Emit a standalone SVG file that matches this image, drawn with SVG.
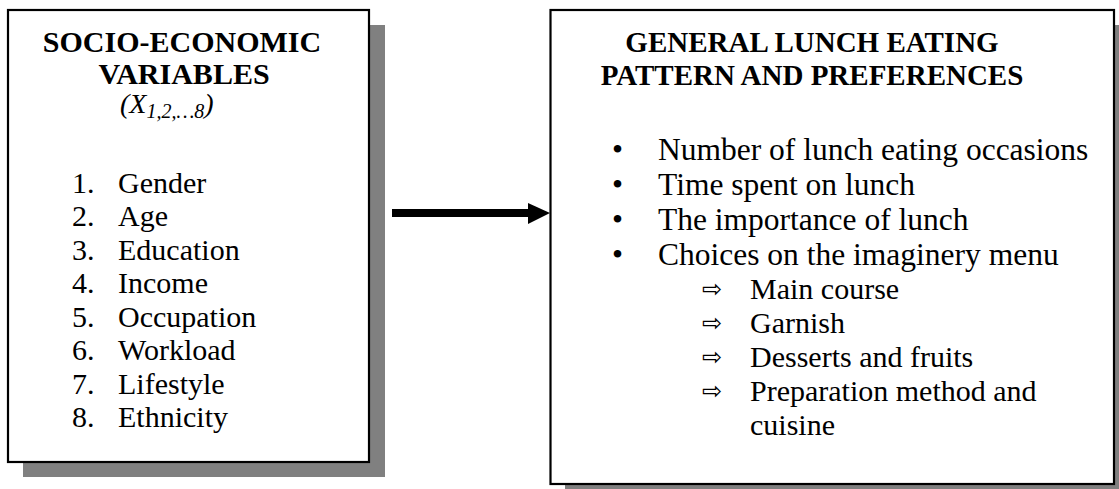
<svg xmlns="http://www.w3.org/2000/svg" width="1119" height="489" viewBox="0 0 1119 489">
  <defs>
    <style>
      .shadow { fill: #808080; }
      .box { fill: #ffffff; stroke: #000000; stroke-width: 2.2; }
      .title { font-family: "Liberation Serif", "Times New Roman", serif; font-weight: bold; font-size: 30px; fill: #000; text-anchor: middle; }
      .title-r { font-size: 29px; }
      .item { font-family: "Liberation Serif", "Times New Roman", serif; font-size: 30px; fill: #000; }
      .bullet { font-size: 31.5px; }
      .sym { font-family: "DejaVu Sans", sans-serif; font-size: 24px; fill: #000; }
      .ital { font-family: "Liberation Serif", "Times New Roman", serif; font-style: italic; font-size: 28px; fill: #000; }
    </style>
  </defs>

  <!-- Left node: socio-economic variables -->
  <g id="socio-economic">
    <rect class="shadow" x="23" y="25" width="362" height="452"/>
    <rect class="box" x="8" y="10" width="361" height="452"/>
    <text class="title" x="182" y="52">SOCIO-ECONOMIC</text>
    <text class="title" x="184" y="84">VARIABLES</text>
    <text class="ital" x="120" y="113">(X<tspan font-size="20" dy="5">1,2,…8</tspan><tspan dy="-5">)</tspan></text>
    <g class="item">
      <text x="72" y="193">1.</text><text x="118" y="193">Gender</text>
      <text x="72" y="226">2.</text><text x="118" y="226">Age</text>
      <text x="72" y="260">3.</text><text x="118" y="260">Education</text>
      <text x="72" y="293">4.</text><text x="118" y="293">Income</text>
      <text x="72" y="327">5.</text><text x="118" y="327">Occupation</text>
      <text x="72" y="360">6.</text><text x="118" y="360">Workload</text>
      <text x="72" y="394">7.</text><text x="118" y="394">Lifestyle</text>
      <text x="72" y="427">8.</text><text x="118" y="427">Ethnicity</text>
    </g>
  </g>

  <!-- Right node: lunch eating pattern and preferences -->
  <g id="lunch-pattern">
    <rect class="shadow" x="565" y="25" width="564" height="474"/>
    <rect class="box" x="550.5" y="10" width="563.5" height="474"/>
    <text class="title title-r" x="812" y="52">GENERAL LUNCH EATING</text>
    <text class="title title-r" x="812" y="85">PATTERN AND PREFERENCES</text>
    <g class="item">
      <g class="bullet">
        <text x="612" y="160">•</text><text x="658" y="160">Number of lunch eating occasions</text>
        <text x="612" y="195">•</text><text x="658" y="195">Time spent on lunch</text>
        <text x="612" y="230">•</text><text x="658" y="230">The importance of lunch</text>
        <text x="612" y="265">•</text><text x="658" y="265">Choices on the imaginery menu</text>
      </g>
      <text x="750" y="299">Main course</text>
      <text x="750" y="333">Garnish</text>
      <text x="750" y="367">Desserts and fruits</text>
      <text x="750" y="401">Preparation method and</text>
      <text x="750" y="435">cuisine</text>
    </g>
    <g class="sym">
      <text x="702" y="297">⇨</text>
      <text x="702" y="331">⇨</text>
      <text x="702" y="365">⇨</text>
      <text x="702" y="399">⇨</text>
    </g>
  </g>

  <!-- Connector -->
  <g id="connectors">
    <rect x="392" y="209" width="137" height="8" fill="#000"/>
    <polygon points="528,203 550,213 528,224" fill="#000"/>
  </g>
</svg>
